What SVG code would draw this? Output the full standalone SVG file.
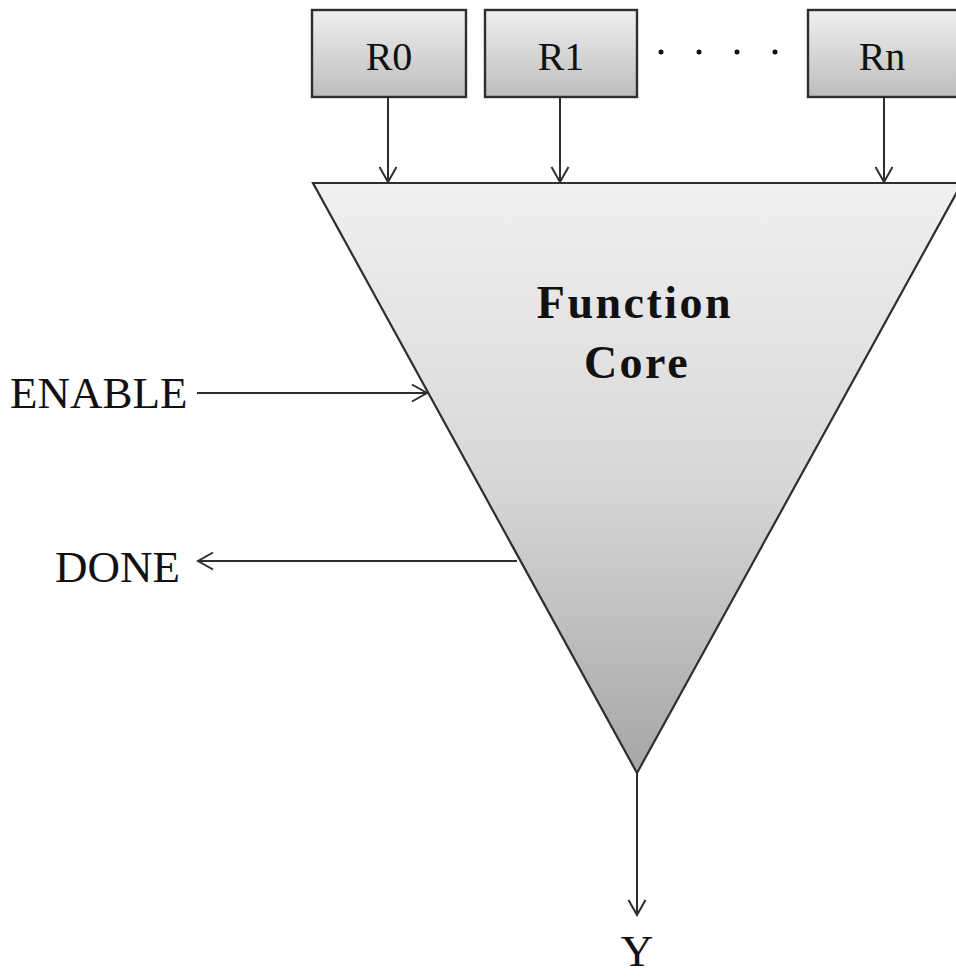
<svg xmlns="http://www.w3.org/2000/svg" width="956" height="979" viewBox="0 0 956 979">
  <style>
    .box { stroke: #2e2e2e; stroke-width: 2.4; fill: url(#boxFill); }
    .lbl { font-family: "Liberation Serif", "Times New Roman", serif; font-size: 45px; fill: #111; }
    .reg { font-family: "Liberation Serif", "Times New Roman", serif; font-size: 40px; fill: #111; text-anchor: middle; }
    .core { font-family: "Liberation Serif", "Times New Roman", serif; font-size: 46px; font-weight: bold; fill: #111; text-anchor: middle; letter-spacing: 2.5px; }
    .wire { stroke: #2e2e2e; stroke-width: 2; fill: none; marker-end: url(#open); }
    .dot { fill: #111; }
  </style>
  <defs>
    <linearGradient id="boxFill" x1="0" y1="0" x2="0" y2="1">
      <stop offset="0" stop-color="#efefef"/>
      <stop offset="1" stop-color="#bdbdbd"/>
    </linearGradient>
    <linearGradient id="coreFill" x1="0" y1="0" x2="0" y2="1">
      <stop offset="0" stop-color="#f0f0f0"/>
      <stop offset="0.5" stop-color="#d8d8d8"/>
      <stop offset="1" stop-color="#a6a6a6"/>
    </linearGradient>
    <marker id="open" viewBox="0 0 18 20" refX="16" refY="10" markerWidth="18" markerHeight="20" markerUnits="userSpaceOnUse" orient="auto">
      <path d="M1,1.5 L16,10 L1,18.5" fill="none" stroke="#2e2e2e" stroke-width="2"/>
    </marker>
  </defs>

  <!-- register inputs -->
  <g id="r0">
    <rect class="box" x="312" y="10" width="154" height="87"/>
    <text class="reg" x="389" y="70">R0</text>
  </g>
  <g id="r1">
    <rect class="box" x="485" y="10" width="152" height="87"/>
    <text class="reg" x="561" y="70">R1</text>
  </g>
  <g id="rn">
    <rect class="box" x="808" y="10" width="152" height="87"/>
    <text class="reg" x="882" y="70">Rn</text>
  </g>
  <g id="ellipsis">
    <circle class="dot" cx="661" cy="52" r="2.5"/>
    <circle class="dot" cx="699" cy="52" r="2.5"/>
    <circle class="dot" cx="737" cy="52" r="2.5"/>
    <circle class="dot" cx="775" cy="52" r="2.5"/>
  </g>

  <!-- function core -->
  <g id="core">
    <path d="M313,183 L962,183 L637,773 Z" fill="url(#coreFill)" stroke="#2e2e2e" stroke-width="2.2" stroke-linejoin="miter"/>
    <text class="core" x="635" y="318">Function</text>
    <text class="core" x="637" y="378">Core</text>
  </g>

  <!-- signal labels -->
  <g id="enable"><text class="lbl" x="10" y="408">ENABLE</text></g>
  <g id="done"><text class="lbl" x="55" y="582">DONE</text></g>
  <g id="y"><text class="lbl" x="637" y="966" text-anchor="middle">Y</text></g>

  <!-- connectors -->
  <g id="connectors">
    <line class="wire" x1="388" y1="97" x2="388" y2="182"/>
    <line class="wire" x1="560" y1="97" x2="560" y2="182"/>
    <line class="wire" x1="884" y1="97" x2="884" y2="182"/>
    <line class="wire" x1="197" y1="393" x2="427" y2="393"/>
    <line class="wire" x1="517" y1="561" x2="198" y2="561"/>
    <line class="wire" x1="637" y1="773" x2="637" y2="915"/>
  </g>
</svg>
